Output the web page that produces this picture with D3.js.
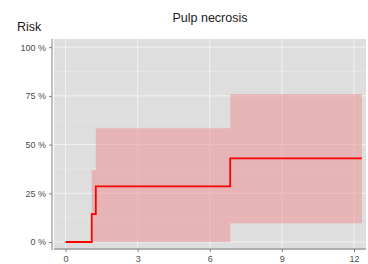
<!DOCTYPE html>
<html>
<head>
<meta charset="utf-8">
<script src="https://cdn.jsdelivr.net/npm/d3@7"></script>
<style>
  body { margin: 0; background: #fff; }
  svg { display: block; font-family: "Liberation Sans", Arial, sans-serif; }
  .tick text { fill: #4d4d4d; font-size: 9px; }
  .tick line { stroke: #7f7f7f; }
</style>
</head>
<body>
<svg id="chart" width="368" height="264"></svg>
<script>
// step estimate (time in years, risk in %)
const stepTimes = [0, 1.09, 1.26, 6.85, 12.33];
const stepRisk = [0, 14.3, 28.6, 42.9, 42.9];
// confidence band for each step
const bandLower = [0, 0, 0, 9.6, 9.6];
const bandUpper = [0, 37, 58.4, 76, 76];
const xTicks = [0, 3, 6, 9, 12];
const yTicks = [0, 25, 50, 75, 100];
const yMinor = [12.5, 37.5, 62.5, 87.5];

const svg = d3.select('#chart');
const panel = { left: 54, right: 366, top: 39, bottom: 250 };

const x = d3.scaleLinear().domain([-0.48, 12.5]).range([panel.left, panel.right]);
const y = d3.scaleLinear().domain([-4.1, 104.2]).range([panel.bottom, panel.top]);

svg.append('rect')
  .attr('x', panel.left).attr('y', panel.top)
  .attr('width', panel.right - panel.left).attr('height', panel.bottom - panel.top)
  .attr('fill', '#dedede');

const grid = svg.append('g');
grid.selectAll('line.minor').data(yMinor).join('line')
  .attr('x1', panel.left).attr('x2', panel.right)
  .attr('y1', (d) => y(d)).attr('y2', (d) => y(d))
  .attr('stroke', '#e9e9e9').attr('stroke-width', 0.6);
grid.selectAll('line.hmajor').data(yTicks).join('line')
  .attr('x1', panel.left).attr('x2', panel.right)
  .attr('y1', (d) => y(d)).attr('y2', (d) => y(d))
  .attr('stroke', '#f2f2f2').attr('stroke-width', 1);
grid.selectAll('line.vmajor').data(xTicks).join('line')
  .attr('y1', panel.top).attr('y2', panel.bottom)
  .attr('x1', (d) => x(d)).attr('x2', (d) => x(d))
  .attr('stroke', '#f2f2f2').attr('stroke-width', 1);

const pts = stepTimes.map((t, i) => ({ t, est: stepRisk[i], lo: bandLower[i], hi: bandUpper[i] }));

const area = d3.area()
  .curve(d3.curveStepAfter)
  .x((d) => x(d.t))
  .y0((d) => y(d.lo))
  .y1((d) => y(d.hi));
svg.append('path').datum(pts).attr('d', area)
  .attr('fill', '#f08080').attr('fill-opacity', 0.45);

const line = d3.line()
  .curve(d3.curveStepAfter)
  .x((d) => x(d.t))
  .y((d) => y(d.est));
svg.append('path').datum(pts).attr('d', line)
  .attr('fill', 'none').attr('stroke', '#ff0000').attr('stroke-width', 1.8);

const yAxis = d3.axisLeft(y).tickValues(yTicks).tickFormat((d) => d + ' %').tickSize(3).tickPadding(3).tickSizeOuter(0);
const yg = svg.append('g').attr('transform', `translate(${panel.left - 2},0)`).call(yAxis);
yg.select('.domain').attr('d', `M0,${panel.top}V${panel.bottom}`).attr('stroke', '#7f7f7f');

const xAxis = d3.axisBottom(x).tickValues(xTicks).tickSize(3).tickPadding(4).tickSizeOuter(0);
const xg = svg.append('g').attr('transform', `translate(0,${panel.bottom - 1})`).call(xAxis);
xg.select('.domain').attr('d', `M${panel.left},0H${panel.right}`).attr('stroke', '#7f7f7f');

svg.append('text').attr('x', (panel.left + panel.right) / 2).attr('y', 22)
  .attr('text-anchor', 'middle').attr('font-size', 12.5).attr('fill', '#1a1a1a')
  .text('Pulp necrosis');
svg.append('text').attr('x', 17).attr('y', 31)
  .attr('font-size', 12.5).attr('fill', '#1a1a1a')
  .text('Risk');
</script>
</body>
</html>
